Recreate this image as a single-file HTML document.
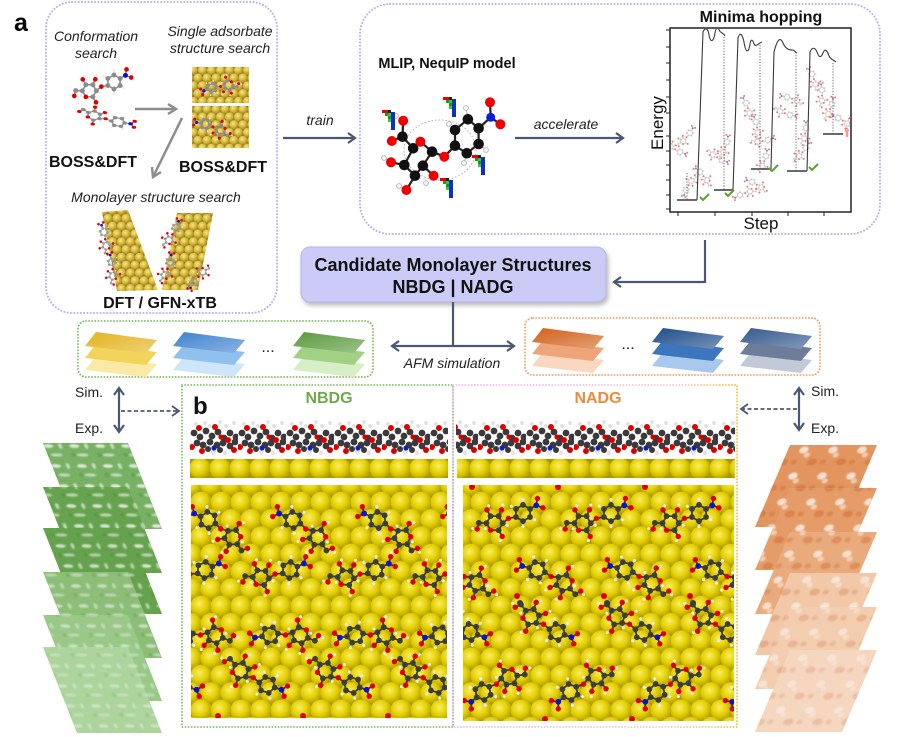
<!DOCTYPE html>
<html><head><meta charset="utf-8"><style>
html,body{margin:0;padding:0;background:#fff;}
svg{display:block;font-family:"Liberation Sans",Arial,sans-serif;}
</style></head><body>
<svg width="900" height="737" viewBox="0 0 900 737" xmlns="http://www.w3.org/2000/svg">
<defs>
<radialGradient id="gball" cx="0.42" cy="0.38" r="0.62"><stop offset="0" stop-color="#fbee60"/><stop offset="0.6" stop-color="#e2ce00"/><stop offset="1" stop-color="#b3a000"/></radialGradient>
<radialGradient id="gb2" cx="0.4" cy="0.35" r="0.7"><stop offset="0" stop-color="#f6e58a"/><stop offset="0.5" stop-color="#d9bc3e"/><stop offset="1" stop-color="#9c801e"/></radialGradient>
<pattern id="au" x="191" y="485" width="20" height="34.64" patternUnits="userSpaceOnUse">
<rect width="20" height="34.64" fill="#a89800"/>
<circle cx="0" cy="0" r="10.6" fill="url(#gball)"/><circle cx="20" cy="0" r="10.6" fill="url(#gball)"/>
<circle cx="10" cy="17.32" r="10.6" fill="url(#gball)"/>
<circle cx="0" cy="34.64" r="10.6" fill="url(#gball)"/><circle cx="20" cy="34.64" r="10.6" fill="url(#gball)"/>
</pattern>
<pattern id="au2" width="9" height="15.6" patternUnits="userSpaceOnUse">
<rect width="9" height="15.6" fill="#8e7620"/>
<circle cx="0" cy="0" r="4.6" fill="url(#gb2)"/><circle cx="9" cy="0" r="4.6" fill="url(#gb2)"/><circle cx="4.5" cy="7.8" r="4.6" fill="url(#gb2)"/><circle cx="0" cy="15.6" r="4.6" fill="url(#gb2)"/><circle cx="9" cy="15.6" r="4.6" fill="url(#gb2)"/>
</pattern>
<pattern id="aus" x="190" y="458" width="20" height="21" patternUnits="userSpaceOnUse">
<rect width="20" height="21" fill="#a89800"/><circle cx="10" cy="10.5" r="10.6" fill="url(#gball)"/>
</pattern>
<pattern id="sb" x="190" y="419" width="48" height="36" patternUnits="userSpaceOnUse">
<g fill="#3a3a3a">
<circle cx="4" cy="14" r="3.4"/><circle cx="10" cy="18" r="3.4"/><circle cx="16" cy="12" r="3.4"/><circle cx="22" cy="17" r="3.4"/><circle cx="28" cy="13" r="3.4"/><circle cx="34" cy="19" r="3.4"/><circle cx="40" cy="14" r="3.4"/><circle cx="46" cy="18" r="3.4"/><circle cx="7" cy="24" r="3.4"/><circle cx="13" cy="26" r="3.4"/><circle cx="20" cy="23" r="3.4"/><circle cx="27" cy="26" r="3.4"/><circle cx="33" cy="24" r="3.4"/><circle cx="40" cy="27" r="3.4"/><circle cx="45" cy="23" r="3.4"/><circle cx="18" cy="30" r="3"/><circle cx="30" cy="31" r="3"/>
</g>
<g fill="#d80000"><circle cx="9" cy="9" r="3"/><circle cx="25" cy="8" r="3"/><circle cx="38" cy="21" r="3"/><circle cx="12" cy="32" r="3"/><circle cx="44" cy="31" r="3"/><circle cx="2" cy="28" r="3"/><circle cx="31" cy="18" r="2.6"/></g>
<g fill="#e2e2e2"><circle cx="6" cy="5" r="2"/><circle cx="15" cy="4" r="2"/><circle cx="20" cy="7" r="2"/><circle cx="30" cy="3" r="2"/><circle cx="36" cy="7" r="2"/><circle cx="44" cy="4" r="2"/><circle cx="23" cy="33" r="2"/><circle cx="35" cy="34" r="2"/></g>
<circle cx="24" cy="29" r="2.6" fill="#1020c8"/>
</pattern>
<pattern id="spg" width="26" height="20" patternUnits="userSpaceOnUse" patternTransform="skewX(21)">
<ellipse cx="7" cy="6" rx="5" ry="1.8" fill="#fff" opacity="0.75"/>
<ellipse cx="19" cy="6" rx="1.8" ry="3" fill="#fff" opacity="0.6"/>
<ellipse cx="12" cy="15" rx="6" ry="1.6" fill="#fff" opacity="0.55"/>
<ellipse cx="3" cy="15" rx="2" ry="2" fill="#2e6a20" opacity="0.25"/>
</pattern>
<pattern id="spo" width="29" height="26" patternUnits="userSpaceOnUse" patternTransform="skewX(-23)">
<ellipse cx="9" cy="8" rx="4.5" ry="3.5" fill="#fff" opacity="0.7"/>
<ellipse cx="14" cy="13" rx="3" ry="2.5" fill="#fff" opacity="0.5"/>
<ellipse cx="22" cy="20" rx="5" ry="3.5" fill="#c2561a" opacity="0.35"/>
<ellipse cx="4" cy="20" rx="3" ry="2.5" fill="#c2561a" opacity="0.3"/>
</pattern>
<filter id="bl" x="-5%" y="-5%" width="110%" height="110%"><feGaussianBlur stdDeviation="0.9"/></filter>
<filter id="sh" x="-10%" y="-20%" width="120%" height="150%"><feDropShadow dx="2" dy="3" stdDeviation="2" flood-color="#777" flood-opacity="0.5"/></filter>
<linearGradient id="shine" x1="0" y1="0" x2="1" y2="1"><stop offset="0" stop-color="#fff" stop-opacity="0"/><stop offset="1" stop-color="#fff" stop-opacity="0.4"/></linearGradient>
<linearGradient id="pk" x1="0" y1="0" x2="1" y2="0"><stop offset="0" stop-color="#f5b3e6"/><stop offset="0.8" stop-color="#f3c3cf"/><stop offset="1" stop-color="#efbf2a"/></linearGradient>
<g id="mol">
<g stroke="currentColor" stroke-width="2" fill="none" stroke-linejoin="round">
<polygon points="9,0 4.5,7.8 -4.5,7.8 -9,0 -4.5,-7.8 4.5,-7.8"/>
<polyline points="-22,-6 -17,0 -22,6"/>
<line x1="-9" y1="0" x2="-17" y2="0"/>
<polyline points="9,0 17,3 25.2,1.5"/>
<polygon points="25.2,1.5 33,-3 40.8,1.5 40.8,10.5 33,15 25.2,10.5"/>
<line x1="33" y1="-3" x2="33" y2="-11"/>
<line x1="33" y1="15" x2="33" y2="23"/>
<line x1="25.2" y1="10.5" x2="19" y2="15"/>
<polyline points="40.8,10.5 48,15 53,10"/>
</g>
<g stroke="#c8c8c8" stroke-width="1.2">
<line x1="4.5" y1="7.8" x2="7.5" y2="13"/><line x1="-4.5" y1="7.8" x2="-7.5" y2="13"/><line x1="-4.5" y1="-7.8" x2="-7.5" y2="-13"/><line x1="4.5" y1="-7.8" x2="7.5" y2="-13"/>
</g>
<g fill="currentColor">
<circle cx="9" cy="0" r="3.2"/><circle cx="4.5" cy="7.8" r="3.2"/><circle cx="-4.5" cy="7.8" r="3.2"/><circle cx="-9" cy="0" r="3.2"/><circle cx="-4.5" cy="-7.8" r="3.2"/><circle cx="4.5" cy="-7.8" r="3.2"/>
<circle cx="25.2" cy="1.5" r="3.2"/><circle cx="33" cy="-3" r="3.2"/><circle cx="40.8" cy="10.5" r="3.2"/><circle cx="33" cy="15" r="3.2"/><circle cx="25.2" cy="10.5" r="3.2"/><circle cx="48" cy="15" r="3.2"/>
</g>
<g fill="#e00000">
<circle cx="-22" cy="-6" r="3"/><circle cx="-22" cy="6" r="3"/><circle cx="17" cy="3" r="3"/><circle cx="40.8" cy="1.5" r="3"/><circle cx="33" cy="-11" r="3"/><circle cx="33" cy="23" r="3"/><circle cx="19" cy="15" r="3"/><circle cx="53" cy="10" r="3"/>
</g>
<circle cx="-17" cy="0" r="3.2" fill="#1010d0"/>
<g fill="#ececec">
<circle cx="7.5" cy="13" r="1.7"/><circle cx="-7.5" cy="13" r="1.7"/><circle cx="-7.5" cy="-13" r="1.7"/><circle cx="7.5" cy="-13" r="1.7"/><circle cx="37" cy="-14" r="1.7"/><circle cx="29" cy="26" r="1.7"/><circle cx="15" cy="19" r="1.7"/><circle cx="57" cy="13" r="1.7"/><circle cx="22" cy="-3" r="1.7"/><circle cx="45" cy="6" r="1.7"/>
</g>
</g>
<g id="bar">
<rect x="0" y="0" width="6" height="3" fill="#e00"/><rect x="6" y="0" width="3" height="3" fill="#222"/>
<rect x="3" y="3" width="3" height="3" fill="#1a9a1a"/><rect x="6" y="3" width="3" height="3" fill="#33cc33"/>
<rect x="6" y="6" width="3" height="3" fill="#1a9a1a"/><rect x="6" y="9" width="3" height="3" fill="#33cc33"/>
<rect x="9" y="2" width="4" height="18" fill="#1030c0"/>
</g>
<clipPath id="c1"><rect x="191" y="485" width="256" height="233"/></clipPath>
<clipPath id="c2"><rect x="463" y="485" width="271" height="236"/></clipPath>
<clipPath id="plt"><rect x="671" y="29" width="179" height="182"/></clipPath>
</defs>

<rect width="900" height="737" fill="#fff"/>

<!-- ============ Panel a top-left box ============ -->
<rect x="46" y="2" width="231" height="311" rx="26" fill="none" stroke="#b3b3ee" stroke-width="2" stroke-dasharray="0.1 3.2" stroke-linecap="round"/>
<text x="14" y="31" font-size="25" font-weight="bold">a</text>
<g font-size="14" font-style="italic" text-anchor="middle" fill="#222">
<text x="96" y="41">Conformation</text><text x="96" y="58">search</text>
<text x="220" y="36">Single adsorbate</text><text x="220" y="53">structure search</text>
<text x="156" y="202">Monolayer structure search</text>
</g>
<!-- conformation molecules -->
<use href="#mol" color="#8c8c8c" transform="translate(114,82) rotate(150) scale(0.78)"/>
<use href="#mol" color="#8c8c8c" transform="translate(118,122) rotate(188) scale(0.75,0.5)"/>
<!-- au slabs -->
<rect x="192" y="67" width="57" height="36" fill="url(#au2)"/>
<rect x="192" y="106" width="57" height="42" fill="url(#au2)"/>
<use href="#mol" color="#8a8a9a" transform="translate(212,88) rotate(-20) scale(0.5)"/>
<use href="#mol" color="#8a8a9a" transform="translate(205,124) rotate(10) scale(0.5)"/>
<g font-size="16" font-weight="bold" text-anchor="middle" fill="#111">
<text x="93" y="167">BOSS&amp;DFT</text>
<text x="223" y="172">BOSS&amp;DFT</text>
<text x="160" y="308">DFT / GFN-xTB</text>
</g>
<g stroke="#8d8d8d" stroke-width="2.5" fill="none">
<line x1="135" y1="109" x2="175" y2="109"/><polyline points="168,104 176,109 168,114"/>
<line x1="182" y1="118" x2="154" y2="175"/><polyline points="152,167 153,177 161,172"/>
</g>
<!-- slanted slabs -->
<polygon points="102,212 128,210 158,290 117,291" fill="url(#au2)"/>
<polygon points="177,213 213,213 198,290 162,290" fill="url(#au2)"/>
<use href="#mol" color="#999" transform="translate(104,232) rotate(70) scale(0.42)"/>
<use href="#mol" color="#999" transform="translate(112,262) rotate(75) scale(0.42)"/>
<use href="#mol" color="#999" transform="translate(176,228) rotate(110) scale(0.42)"/>
<use href="#mol" color="#999" transform="translate(170,262) rotate(100) scale(0.42)"/>
<use href="#mol" color="#999" transform="translate(194,282) rotate(-60) scale(0.4)"/>

<!-- train arrow -->
<g stroke="#4c5873" stroke-width="2.2" fill="none">
<line x1="283" y1="138" x2="355" y2="138"/><polyline points="348,133 355,138 348,143"/>
</g>
<text x="320" y="125" font-size="14" font-style="italic" text-anchor="middle" fill="#222">train</text>

<!-- ============ top-right box ============ -->
<rect x="360" y="4" width="520" height="230" rx="30" fill="none" stroke="#b3b3ee" stroke-width="2" stroke-dasharray="0.1 3.2" stroke-linecap="round"/>
<text x="447" y="68" font-size="14.5" font-weight="bold" text-anchor="middle" fill="#111">MLIP, NequIP model</text>
<!-- MLIP molecule -->
<ellipse cx="440" cy="150" rx="36" ry="30" fill="none" stroke="#b0b0b0" stroke-width="1" stroke-dasharray="1.5 2"/>
<g stroke="#222" stroke-width="2.2">
<line x1="402.5" y1="136.7" x2="403.2" y2="120.7"/><line x1="402.5" y1="136.7" x2="391.8" y2="141"/>
<line x1="402.5" y1="136.7" x2="413.2" y2="148.3"/><line x1="413.2" y1="148.3" x2="404.3" y2="165"/>
<line x1="413.2" y1="148.3" x2="420.4" y2="141.7"/><line x1="420.4" y1="141.7" x2="432.1" y2="151.7"/>
<line x1="404.3" y1="165" x2="415" y2="175.7"/><line x1="404.3" y1="165" x2="391" y2="162.3"/>
<line x1="415" y1="175.7" x2="422.9" y2="165.7"/><line x1="422.9" y1="165.7" x2="432.1" y2="151.7"/>
<line x1="422.9" y1="165.7" x2="433.6" y2="175.7"/><line x1="415" y1="175.7" x2="406.4" y2="190"/>
<line x1="432.1" y1="151.7" x2="444.3" y2="156.7"/><line x1="444.3" y1="156.7" x2="455" y2="145.7"/>
<polygon points="455,130 467.9,119.3 478.6,128.3 478.6,144 466.8,153.3 455,145.7" fill="none"/>
<line x1="478.6" y1="128.3" x2="490.7" y2="117.3"/><line x1="490.7" y1="117.3" x2="490" y2="102.3"/><line x1="490.7" y1="117.3" x2="500.4" y2="124.3"/>
</g>
<g stroke="#bbb" stroke-width="1.2"><line x1="455" y1="130" x2="449" y2="124"/><line x1="467.9" y1="119.3" x2="466" y2="108"/><line x1="478.6" y1="144" x2="486" y2="150"/><line x1="466.8" y1="153.3" x2="464" y2="163"/><line x1="391" y1="162.3" x2="384" y2="158"/><line x1="406.4" y1="190" x2="399" y2="186"/></g>
<g fill="#111">
<circle cx="402.5" cy="136.7" r="5.3"/><circle cx="413.2" cy="148.3" r="5.3"/><circle cx="404.3" cy="165" r="5.3"/><circle cx="422.9" cy="165.7" r="5.3"/><circle cx="415" cy="175.7" r="5.3"/><circle cx="432.1" cy="151.7" r="5.3"/>
<circle cx="455" cy="130" r="5.3"/><circle cx="467.9" cy="119.3" r="5.3"/><circle cx="478.6" cy="128.3" r="5.3"/><circle cx="478.6" cy="144" r="5.3"/><circle cx="466.8" cy="153.3" r="5.3"/><circle cx="455" cy="145.7" r="5.3"/>
</g>
<g fill="#f00000">
<circle cx="403.2" cy="120.7" r="5"/><circle cx="391.8" cy="141" r="5"/><circle cx="420.4" cy="141.7" r="5"/><circle cx="391" cy="162.3" r="5"/><circle cx="433.6" cy="175.7" r="5"/><circle cx="406.4" cy="190" r="5"/><circle cx="444.3" cy="156.7" r="5"/><circle cx="490" cy="102.3" r="5"/><circle cx="500.4" cy="124.3" r="5"/>
</g>
<circle cx="490.7" cy="117.3" r="4.5" fill="#0a1ee0"/>
<g fill="#f4f4f4" stroke="#aaa" stroke-width="0.8">
<circle cx="449" cy="124" r="2.4"/><circle cx="466" cy="108" r="2.4"/><circle cx="486" cy="150" r="2.4"/><circle cx="464" cy="163" r="2.4"/><circle cx="384" cy="158" r="2.4"/><circle cx="399" cy="186" r="2.4"/><circle cx="396" cy="116" r="2.4"/><circle cx="426" cy="183" r="2.4"/>
</g>
<use href="#bar" transform="translate(382,110)"/>
<use href="#bar" transform="translate(443,97)"/>
<use href="#bar" transform="translate(472,155)"/>
<use href="#bar" transform="translate(440,178)"/>

<!-- accelerate arrow -->
<g stroke="#4c5873" stroke-width="2.2" fill="none">
<line x1="515" y1="138" x2="623" y2="138"/><polyline points="616,133 623,138 616,143"/>
</g>
<text x="566" y="129" font-size="14" font-style="italic" text-anchor="middle" fill="#222">accelerate</text>

<!-- Minima hopping plot -->
<text x="761" y="22" font-size="16" font-weight="bold" text-anchor="middle" fill="#111">Minima hopping</text>
<g clip-path="url(#plt)">
<g color="#a8a8a8" opacity="0.55">
<use href="#mol" transform="translate(690,133) rotate(120) scale(0.32)"/>
<use href="#mol" transform="translate(680,152) rotate(200) scale(0.32)"/>
<use href="#mol" transform="translate(700,172) rotate(40) scale(0.32)"/>
<use href="#mol" transform="translate(686,190) rotate(-70) scale(0.32)"/>
<use href="#mol" transform="translate(727,142) rotate(100) scale(0.32)"/>
<use href="#mol" transform="translate(722,160) rotate(200) scale(0.32)"/>
<use href="#mol" transform="translate(752,182) rotate(20) scale(0.32)"/>
<use href="#mol" transform="translate(740,195) rotate(-30) scale(0.32)"/>
<use href="#mol" transform="translate(746,103) rotate(60) scale(0.32)"/>
<use href="#mol" transform="translate(756,122) rotate(70) scale(0.32)"/>
<use href="#mol" transform="translate(768,140) rotate(160) scale(0.32)"/>
<use href="#mol" transform="translate(766,156) rotate(100) scale(0.32)"/>
<use href="#mol" transform="translate(787,97) rotate(10) scale(0.32)"/>
<use href="#mol" transform="translate(790,115) rotate(190) scale(0.32)"/>
<use href="#mol" transform="translate(806,128) rotate(90) scale(0.32)"/>
<use href="#mol" transform="translate(806,148) rotate(120) scale(0.32)"/>
<use href="#mol" transform="translate(812,74) rotate(60) scale(0.32)"/>
<use href="#mol" transform="translate(822,90) rotate(80) scale(0.32)"/>
<use href="#mol" transform="translate(832,104) rotate(100) scale(0.32)"/>
<use href="#mol" transform="translate(838,118) rotate(20) scale(0.32)"/>
</g>
<g stroke="#555" stroke-width="0.9" fill="none" stroke-dasharray="1.2 1.6">
<line x1="724" y1="37" x2="724" y2="190"/><line x1="687" y1="173" x2="687" y2="200"/>
<line x1="760" y1="45" x2="760" y2="169"/><line x1="796" y1="55" x2="796" y2="171"/><line x1="833" y1="63" x2="833" y2="134"/>
</g>
<g stroke="#3a3a3a" stroke-width="1.1" fill="none">
<path d="M697,200 L703,32 C705,27 708,28 709,35 C711,45 714,40 715,33 C716,27 718,27 719,30 C721,34 723,32 725,36"/>
<path d="M733,190 L738,38 C740,32 742,33 744,42 C746,55 749,52 750,44 C751,38 753,40 754,44 C756,48 760,42 762,42"/>
<path d="M771,169 L774,52 C777,40 780,36 783,43 C786,50 790,50 793,50 C795,51 796,53 797,53"/>
<path d="M807,171 L810,52 C812,47 815,47 817,52 C819,58 821,58 823,53 C825,48 827,50 829,56 C831,60 834,60 836,62"/>
</g>
<g stroke="#555" stroke-width="1.8">
<line x1="677" y1="200" x2="697" y2="200"/><line x1="714" y1="190" x2="733" y2="190"/><line x1="751" y1="169" x2="771" y2="169"/><line x1="787" y1="171" x2="807" y2="171"/><line x1="823" y1="134" x2="843" y2="134"/>
</g>
<g stroke="#5aa02c" stroke-width="2" fill="none">
<polyline points="700,197 703,200 709,194"/><polyline points="725,193 728,196 734,190"/><polyline points="769,168 772,171 778,165"/><polyline points="809,167 812,170 818,164"/>
</g>
<g stroke="#f08080" stroke-width="1" fill="none"><polyline points="845,131 847,128 849,131"/><line x1="846.3" y1="130" x2="846.3" y2="137"/><line x1="847.7" y1="130" x2="847.7" y2="137"/></g>
</g>
<rect x="670" y="28" width="181" height="184" fill="none" stroke="#222" stroke-width="1.5"/>
<g stroke="#222" stroke-width="1">
<line x1="666" y1="30" x2="670" y2="30"/><line x1="666" y1="47" x2="670" y2="47"/><line x1="666" y1="63" x2="670" y2="63"/><line x1="666" y1="80" x2="670" y2="80"/><line x1="666" y1="97" x2="670" y2="97"/><line x1="666" y1="113" x2="670" y2="113"/><line x1="666" y1="136" x2="670" y2="136"/><line x1="666" y1="151" x2="670" y2="151"/><line x1="666" y1="165" x2="670" y2="165"/><line x1="666" y1="180" x2="670" y2="180"/><line x1="666" y1="195" x2="670" y2="195"/><line x1="666" y1="209" x2="670" y2="209"/>
<line x1="678" y1="212" x2="678" y2="216"/><line x1="715" y1="212" x2="715" y2="216"/><line x1="752" y1="212" x2="752" y2="216"/><line x1="788" y1="212" x2="788" y2="216"/><line x1="824" y1="212" x2="824" y2="216"/>
</g>
<text x="663" y="123" font-size="17" text-anchor="middle" fill="#111" transform="rotate(-90 663 123)">Energy</text>
<text x="761" y="229" font-size="17" text-anchor="middle" fill="#111">Step</text>

<!-- arrow minima -> candidate -->
<g stroke="#4c5873" stroke-width="2.2" fill="none">
<polyline points="705,240 705,282 614,282"/><polyline points="621,277 614,282 621,287"/>
</g>

<!-- candidate box -->
<rect x="301" y="247" width="305" height="55" rx="9" fill="#cbcbf8" stroke="#b6b6e6" stroke-width="1" filter="url(#sh)"/>
<g font-size="18" font-weight="bold" text-anchor="middle" fill="#111">
<text x="453" y="271">Candidate Monolayer Structures</text>
<text x="453" y="293">NBDG | NADG</text>
</g>

<!-- AFM arrows -->
<g stroke="#4c5873" stroke-width="2.2" fill="none">
<line x1="453" y1="302" x2="453" y2="346"/>
<line x1="392" y1="346" x2="514" y2="346"/>
<polyline points="399,341 392,346 399,351"/><polyline points="507,341 514,346 507,351"/>
</g>
<text x="452" y="368" font-size="14" font-style="italic" text-anchor="middle" fill="#222">AFM simulation</text>

<!-- small-stacks boxes -->
<rect x="78" y="321" width="295" height="56" rx="8" fill="none" stroke="#7bb45a" stroke-width="1.8" stroke-dasharray="0.1 3" stroke-linecap="round"/>
<rect x="525" y="318" width="295" height="57" rx="8" fill="none" stroke="#f39a5c" stroke-width="1.8" stroke-dasharray="0.1 3" stroke-linecap="round"/>
<g>
<polygon points="96,356 157,364 146,377 85,370" fill="#faeaa6"/>
<polygon points="96,344 157,352 146,365 85,358" fill="#f2d45a"/>
<polygon points="96,332 157,340 146,353 85,346" fill="#e4b320"/><polygon points="96,332 157,340 146,353 85,346" fill="url(#shine)"/>
</g>
<g>
<polygon points="184,356 245,364 234,377 173,370" fill="#cfe6fa"/>
<polygon points="184,344 245,352 234,365 173,358" fill="#8fc0ee"/>
<polygon points="184,332 245,340 234,353 173,346" fill="#3f82d0"/><polygon points="184,332 245,340 234,353 173,346" fill="url(#shine)"/>
</g>
<text x="268" y="352" font-size="16" text-anchor="middle" fill="#222">...</text>
<g>
<polygon points="304,356 365,364 354,377 293,370" fill="#d6efc6"/>
<polygon points="304,344 365,352 354,365 293,358" fill="#a2d186"/>
<polygon points="304,332 365,340 354,353 293,346" fill="#5a9a3e"/><polygon points="304,332 365,340 354,353 293,346" fill="url(#shine)"/>
</g>
<g>
<polygon points="543,352 604,360 593,373 532,366" fill="#f9d8c2"/>
<polygon points="543,340 604,348 593,361 532,354" fill="#eea578"/>
<polygon points="543,328 604,336 593,349 532,342" fill="#d2621c"/><polygon points="543,328 604,336 593,349 532,342" fill="url(#shine)"/>
</g>
<text x="628" y="349" font-size="16" text-anchor="middle" fill="#222">...</text>
<g>
<polygon points="663,352 724,360 713,373 652,366" fill="#a8c8ee"/>
<polygon points="663,340 724,348 713,361 652,354" fill="#3b76bf"/>
<polygon points="663,328 724,336 713,349 652,342" fill="#1e4d8c"/><polygon points="663,328 724,336 713,349 652,342" fill="url(#shine)"/>
</g>
<g>
<polygon points="751,352 812,360 801,373 740,366" fill="#c2cad8"/>
<polygon points="751,340 812,348 801,361 740,354" fill="#6d7d99"/>
<polygon points="751,328 812,336 801,349 740,342" fill="#35598f"/><polygon points="751,328 812,336 801,349 740,342" fill="url(#shine)"/>
</g>

<!-- Sim/Exp -->
<g font-size="14" fill="#222">
<text x="75" y="397">Sim.</text><text x="75" y="433">Exp.</text>
<text x="811" y="396">Sim.</text><text x="811" y="433">Exp.</text>
</g>
<g stroke="#4c5873" stroke-width="2.2" fill="none">
<line x1="119" y1="389" x2="119" y2="431"/><polyline points="114,395 119,388 124,395"/><polyline points="114,425 119,432 124,425"/>
<line x1="799" y1="389" x2="799" y2="429"/><polyline points="794,395 799,388 804,395"/><polyline points="794,423 799,430 804,423"/>
</g>
<g stroke="#4c5873" stroke-width="1.8" fill="none">
<line x1="121" y1="411" x2="178" y2="411" stroke-dasharray="4 2.5"/><polyline points="172,406 179,411 172,416"/>
<line x1="797" y1="409" x2="743" y2="409" stroke-dasharray="4 2.5"/><polyline points="748,404 741,409 748,414"/>
</g>

<!-- Left green AFM stack -->
<g>
<polygon points="43,443 128,443 162,529 77,529" fill="#78b064"/><polygon points="43,443 128,443 162,529 77,529" fill="url(#spg)" filter="url(#bl)"/>
<polygon points="43,487 128,487 162,573 77,573" fill="#67a34f"/><polygon points="43,487 128,487 162,573 77,573" fill="url(#spg)" filter="url(#bl)"/>
<polygon points="43,528 128,528 162,614 77,614" fill="#66a24e"/><polygon points="43,528 128,528 162,614 77,614" fill="url(#spg)" filter="url(#bl)" opacity="0.9"/>
<polygon points="43,572 128,572 162,658 77,658" fill="#8cbe78"/><polygon points="43,572 128,572 162,658 77,658" fill="url(#spg)" filter="url(#bl)" opacity="0.7"/>
<polygon points="43,615 128,615 162,701 77,701" fill="#9ac888"/><polygon points="43,615 128,615 162,701 77,701" fill="url(#spg)" filter="url(#bl)" opacity="0.6"/>
<polygon points="43,647 128,647 162,733 77,733" fill="#acd49c"/><polygon points="43,647 128,647 162,733 77,733" fill="url(#spg)" filter="url(#bl)" opacity="0.5"/>
</g>
<!-- Right orange AFM stack -->
<g>
<polygon points="790,445 877,445 842,527 755,527" fill="#e39560"/><polygon points="790,445 877,445 842,527 755,527" fill="url(#spo)" filter="url(#bl)"/>
<polygon points="790,488 877,488 842,570 755,570" fill="#e59c68"/><polygon points="790,488 877,488 842,570 755,570" fill="url(#spo)" filter="url(#bl)"/>
<polygon points="790,532 877,532 842,614 755,614" fill="#e9aa7c"/><polygon points="790,532 877,532 842,614 755,614" fill="url(#spo)" filter="url(#bl)" opacity="0.9"/>
<polygon points="790,573 877,573 842,655 755,655" fill="#f2c8a8"/><polygon points="790,573 877,573 842,655 755,655" fill="url(#spo)" filter="url(#bl)" opacity="0.7"/>
<polygon points="790,607 877,607 842,689 755,689" fill="#f3cdb0"/><polygon points="790,607 877,607 842,689 755,689" fill="url(#spo)" filter="url(#bl)" opacity="0.6"/>
<polygon points="790,650 877,650 842,732 755,732" fill="#f5d6bf"/><polygon points="790,650 877,650 842,732 755,732" fill="url(#spo)" filter="url(#bl)" opacity="0.5"/>
</g>

<!-- ============ Panel b ============ -->
<rect x="182" y="385" width="271" height="342" fill="none" stroke="#80b860" stroke-width="1.8" stroke-dasharray="0.1 3" stroke-linecap="round"/>
<rect x="453" y="385" width="284" height="342" fill="none" stroke="url(#pk)" stroke-width="1.8" stroke-dasharray="0.1 3" stroke-linecap="round"/>
<text x="193" y="414" font-size="24" font-weight="bold" fill="#111">b</text>
<text x="329" y="403" font-size="16" font-weight="bold" text-anchor="middle" fill="#72a84a">NBDG</text>
<text x="598" y="403" font-size="16" font-weight="bold" text-anchor="middle" fill="#ee8a3c">NADG</text>

<!-- side views -->
<rect x="190" y="420" width="258" height="35" fill="url(#sb)"/>
<rect x="456" y="420" width="279" height="35" fill="url(#sb)"/>
<rect x="190" y="459" width="258" height="19" fill="url(#aus)"/>
<rect x="457" y="459" width="278" height="19" fill="url(#aus)"/>

<!-- top views -->
<rect x="191" y="485" width="256" height="233" fill="url(#au)"/>
<rect x="463" y="485" width="271" height="236" fill="url(#au)"/>
<g clip-path="url(#c1)" color="#3c3c3c">
<use href="#mol" transform="translate(208,520) rotate(25) scale(0.9)"/>
<use href="#mol" transform="translate(293,520) rotate(25) scale(0.9)"/>
<use href="#mol" transform="translate(378,520) rotate(25) scale(0.9)"/>
<use href="#mol" transform="translate(463,520) rotate(25) scale(0.9)"/>
<use href="#mol" transform="translate(205,570) rotate(155) scale(0.9)"/>
<use href="#mol" transform="translate(290,570) rotate(155) scale(0.9)"/>
<use href="#mol" transform="translate(375,570) rotate(155) scale(0.9)"/>
<use href="#mol" transform="translate(460,570) rotate(155) scale(0.9)"/>
<use href="#mol" transform="translate(185,635) rotate(-10) scale(0.9)"/>
<use href="#mol" transform="translate(270,635) rotate(-10) scale(0.9)"/>
<use href="#mol" transform="translate(355,635) rotate(-10) scale(0.9)"/>
<use href="#mol" transform="translate(440,635) rotate(-10) scale(0.9)"/>
<use href="#mol" transform="translate(182,685) rotate(198) scale(0.9)"/>
<use href="#mol" transform="translate(267,685) rotate(198) scale(0.9)"/>
<use href="#mol" transform="translate(352,685) rotate(198) scale(0.9)"/>
<use href="#mol" transform="translate(437,685) rotate(198) scale(0.9)"/>
<g fill="#e00000"><circle cx="218" cy="716" r="3"/><circle cx="303" cy="716" r="3"/><circle cx="388" cy="716" r="3"/></g>
</g>
<g clip-path="url(#c2)" color="#3c3c3c">
<use href="#mol" transform="translate(523,513) rotate(150) scale(0.9)"/>
<use href="#mol" transform="translate(611,513) rotate(150) scale(0.9)"/>
<use href="#mol" transform="translate(699,513) rotate(150) scale(0.9)"/>
<use href="#mol" transform="translate(787,513) rotate(150) scale(0.9)"/>
<use href="#mol" transform="translate(450,570) rotate(15) scale(0.9)"/>
<use href="#mol" transform="translate(537,570) rotate(15) scale(0.9)"/>
<use href="#mol" transform="translate(625,570) rotate(15) scale(0.9)"/>
<use href="#mol" transform="translate(713,570) rotate(15) scale(0.9)"/>
<use href="#mol" transform="translate(470,632) rotate(200) scale(0.9)"/>
<use href="#mol" transform="translate(557,632) rotate(200) scale(0.9)"/>
<use href="#mol" transform="translate(643,632) rotate(200) scale(0.9)"/>
<use href="#mol" transform="translate(729,632) rotate(200) scale(0.9)"/>
<use href="#mol" transform="translate(483,692) rotate(-40) scale(0.9)"/>
<use href="#mol" transform="translate(570,692) rotate(-40) scale(0.9)"/>
<use href="#mol" transform="translate(657,692) rotate(-40) scale(0.9)"/>
<use href="#mol" transform="translate(744,692) rotate(-40) scale(0.9)"/>
<g fill="#e00000"><circle cx="472" cy="487" r="3"/><circle cx="558" cy="487" r="3"/><circle cx="645" cy="487" r="3"/><circle cx="517" cy="596" r="3"/><circle cx="604" cy="596" r="3"/><circle cx="690" cy="596" r="3"/><circle cx="545" cy="719" r="3"/><circle cx="632" cy="719" r="3"/></g>
<g fill="#3c3c3c"><circle cx="520" cy="603" r="3"/><circle cx="607" cy="603" r="3"/><circle cx="693" cy="603" r="3"/></g>
</g>
</svg>
</body></html>
